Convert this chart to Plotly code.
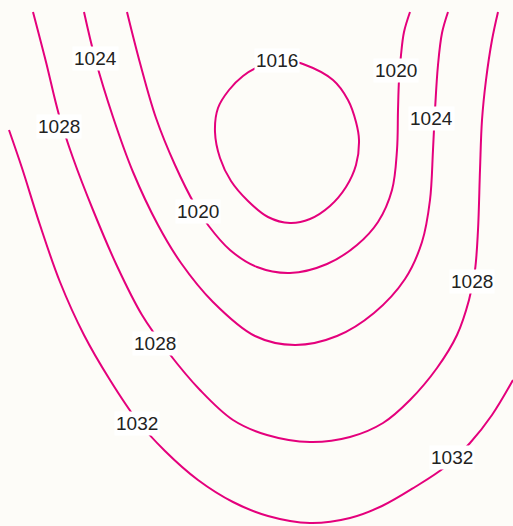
import plotly.graph_objects as go

# Isobar traces (x east, y down in chart units), values in hPa
isobar_1016_x = [280, 303, 333, 348, 356, 359, 356, 346, 330, 310, 290, 268, 248, 231, 220, 215, 218, 229, 243, 258, 280]
isobar_1016_y = [59, 64, 80, 100, 122, 140, 165, 187, 206, 219, 223, 217, 201, 181, 158, 132, 108, 90, 76, 67, 59]

isobar_1020_x = [127, 140, 156, 175, 195, 208, 230, 257, 290, 327, 357, 378, 392, 397, 398, 399, 401, 404, 410]
isobar_1020_y = [12, 63, 118, 165, 205, 225, 250, 267, 273, 264, 245, 222, 190, 150, 110, 80, 55, 32, 12]

isobar_1024_x = [84, 95, 113, 133, 158, 181, 213, 255, 295, 337, 374, 405, 422, 430, 433, 435, 438, 442, 448]
isobar_1024_y = [12, 58, 117, 172, 225, 263, 302, 336, 345, 336, 313, 279, 242, 200, 150, 110, 65, 33, 12]

isobar_1028_x = [33, 46, 59, 73, 93, 117, 142, 168, 200, 233, 267, 310, 350, 383, 410, 437, 457, 469, 475, 478, 480, 482, 486, 492, 498]
isobar_1028_y = [12, 62, 115, 158, 210, 266, 315, 352, 390, 420, 435, 442, 437, 423, 400, 368, 335, 300, 270, 230, 170, 120, 80, 40, 12]

isobar_1032_x = [9, 22, 40, 60, 84, 110, 137, 165, 198, 233, 268, 310, 350, 382, 415, 445, 470, 492, 513]
isobar_1032_y = [130, 168, 225, 282, 335, 380, 420, 451, 480, 502, 516, 523, 518, 506, 487, 467, 443, 415, 380]

label_text = ["1016", "1020", "1020", "1024", "1024", "1028", "1028", "1028", "1032", "1032"]
label_x = [277, 198, 396, 95, 431, 59, 155, 472, 137, 452]
label_y = [60, 211, 70, 58.5, 118, 126, 343, 281, 423, 457]

LINE = "#e4007c"
BG = "#fdfcf8"

fig = go.Figure()
for xs, ys in [(isobar_1016_x, isobar_1016_y), (isobar_1020_x, isobar_1020_y),
               (isobar_1024_x, isobar_1024_y), (isobar_1028_x, isobar_1028_y),
               (isobar_1032_x, isobar_1032_y)]:
    fig.add_trace(go.Scatter(x=xs, y=ys, mode="lines",
                             line=dict(color=LINE, width=2, shape="spline", smoothing=1.0),
                             hoverinfo="skip", showlegend=False))

for t, x, y in zip(label_text, label_x, label_y):
    fig.add_annotation(x=x, y=y, text=t, showarrow=False, bgcolor="#ffffff",
                       borderpad=1, font=dict(family="Liberation Sans, Arial", size=19, color="#222222"))

fig.update_layout(width=513, height=526, margin=dict(l=0, r=0, t=0, b=0),
                  paper_bgcolor=BG, plot_bgcolor=BG,
                  xaxis=dict(range=[0, 513], visible=False, fixedrange=True),
                  yaxis=dict(range=[526, 0], visible=False, fixedrange=True))
fig.write_html("out.html", config={"displayModeBar": False},
               post_script="document.body.style.margin='0';document.body.style.background='" + BG + "';")
